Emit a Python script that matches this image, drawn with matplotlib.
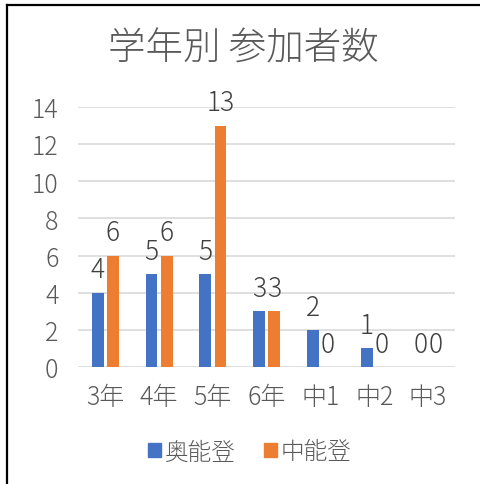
import numpy as np
import matplotlib
matplotlib.use('Agg')
import matplotlib.pyplot as plt
from matplotlib.lines import Line2D
from matplotlib.patches import Patch

plt.rcParams['font.family'] = ['Noto Sans CJK JP', 'DejaVu Sans']
plt.rcParams['font.weight'] = 'light'

grades = ['3年', '4年', '5年', '6年', '中1', '中2', '中3']
oku_noto = [4, 5, 5, 3, 2, 1, 0]
naka_noto = [6, 6, 13, 3, 0, 0, 0]
series_names = ['奥能登', '中能登']
y_ticks = [0, 2, 4, 6, 8, 10, 12, 14]

blue = '#4472C4'
orange = '#ED7D31'
gray_txt = '#595959'
label_txt = '#404040'

fig = plt.figure(figsize=(4.8, 4.85), dpi=100)
ax = fig.add_axes([0.1625, 0.2412, 0.7854, 0.5361])

x = np.arange(len(grades))
w = 0.22
b1 = ax.bar(x - 0.135, oku_noto, w, color=blue, zorder=3)
b2 = ax.bar(x + 0.145, naka_noto, w, color=orange, zorder=3)

for bars, vals in [(b1, oku_noto), (b2, naka_noto)]:
    for r, v in zip(bars, vals):
        ax.text(r.get_x() + r.get_width() / 2, v + 0.5, str(v),
                ha='center', va='bottom', fontsize=19, color=label_txt, zorder=4)

ax.set_xlim(-0.5, len(grades) - 0.5)
ax.set_ylim(0, 14)
ax.set_yticks(y_ticks)
ax.set_xticks(x)
ax.set_xticklabels(grades)
ax.yaxis.grid(True, color='#D9D9D9', linewidth=1.2, zorder=0)
ax.set_axisbelow(True)
for s in ax.spines.values():
    s.set_visible(False)
ax.tick_params(axis='both', length=0, labelsize=18, labelcolor=gray_txt)
ax.tick_params(axis='x', pad=12)
ax.tick_params(axis='y', pad=14)

fig.text(0.508, 0.899, '学年別 参加者数', ha='center', va='center',
         fontsize=27, color=gray_txt)

handles = [Patch(color=blue), Patch(color=orange)]
fig.legend(handles, series_names, loc='center', bbox_to_anchor=(0.52, 0.066),
           ncol=2, frameon=False, fontsize=17, handlelength=0.55, handleheight=0.55,
           handletextpad=0.15, columnspacing=1.2, labelcolor=gray_txt)

# frame lines at left and top edge
fig.add_artist(Line2D([7 / 480, 7 / 480], [0, 1 - 6 / 485], color='black',
                      linewidth=1.6, transform=fig.transFigure))
fig.add_artist(Line2D([7 / 480, 1], [1 - 6 / 485, 1 - 6 / 485], color='black',
                      linewidth=1.6, transform=fig.transFigure))

fig.savefig('out.png', dpi=100)
